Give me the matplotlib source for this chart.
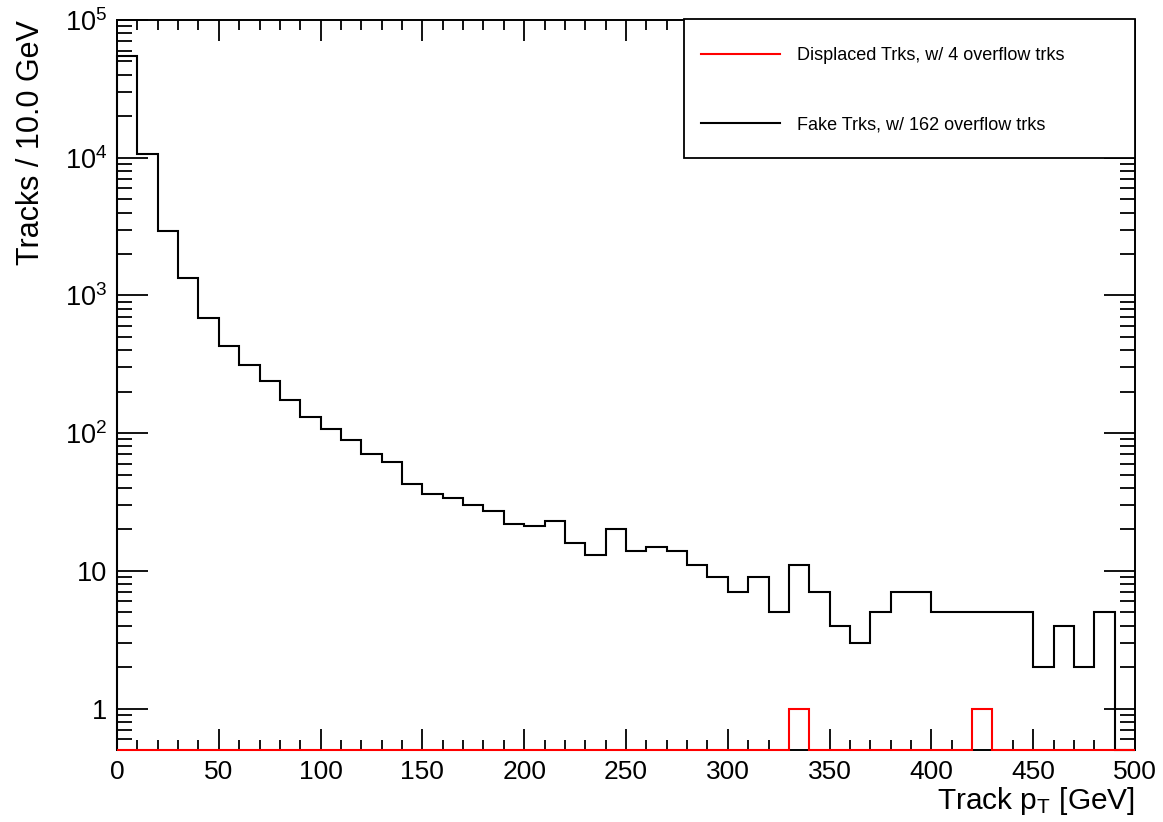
import numpy as np
import matplotlib
matplotlib.use("Agg")
import matplotlib.pyplot as plt
from matplotlib.lines import Line2D
from matplotlib.patches import Rectangle
from matplotlib.ticker import LogLocator, FixedLocator, MultipleLocator, FuncFormatter

plt.rcParams['font.family'] = ['Liberation Sans', 'DejaVu Sans']
plt.rcParams['mathtext.fontset'] = 'custom'
plt.rcParams['mathtext.rm'] = 'Liberation Sans'
plt.rcParams['mathtext.it'] = 'Liberation Sans:italic'
plt.rcParams['mathtext.bf'] = 'Liberation Sans:bold'

# ---- data ----
bin_edges = np.arange(0, 510, 10)  # 50 bins of 10 GeV
fake_counts = [55000, 10600, 2920, 1330, 690, 426, 310, 238, 175, 131,
               108, 89, 70, 62, 43, 36, 34, 30, 27, 22,
               21, 23, 16, 13, 20, 14, 15, 14, 11, 9,
               7, 9, 5, 11, 7, 4, 3, 5, 7, 7,
               5, 5, 5, 5, 5, 2, 4, 2, 5, 0]
displaced_counts = [0] * 50
displaced_counts[33] = 1
displaced_counts[42] = 1
legend_labels = ["Displaced Trks, w/ 4 overflow trks",
                 "Fake Trks, w/ 162 overflow trks"]
legend_colors = ['#ff0000', 'black']
x_ticks = [0, 50, 100, 150, 200, 250, 300, 350, 400, 450, 500]
y_ticks = [1, 10, 100, 1000, 10000, 100000]

YMIN, YMAX = 0.5, 1e5

W, H = 1163, 822
fig = plt.figure(figsize=(W / 100, H / 100), dpi=100)
ax = fig.add_axes([117 / W, 1 - 750 / H, (1135 - 117) / W, (750 - 20) / H])

fake_plot = np.where(np.array(fake_counts) > 0, fake_counts, YMIN)
disp_plot = np.where(np.array(displaced_counts) > 0, displaced_counts, YMIN)

ax.stairs(fake_plot, bin_edges, baseline=YMIN, color='black', lw=1.5, clip_on=False, zorder=3)
ax.stairs(disp_plot, bin_edges, baseline=YMIN, color='#ff0000', lw=1.5, clip_on=False, zorder=4)

ax.set_yscale('log')
ax.set_xlim(0, 500)
ax.set_ylim(YMIN, YMAX)

ax.xaxis.set_major_locator(FixedLocator(x_ticks))
ax.xaxis.set_minor_locator(MultipleLocator(10))
ax.yaxis.set_major_locator(FixedLocator(y_ticks))
ax.yaxis.set_minor_locator(LogLocator(base=10, subs=np.arange(2, 10)))

def yfmt(v, pos):
    if v < 50:
        return "%d" % round(v)
    return r"$10^{%d}$" % round(np.log10(v))

ax.yaxis.set_major_formatter(FuncFormatter(yfmt))
ax.yaxis.set_minor_formatter(FuncFormatter(lambda v, p: ""))

ax.tick_params(axis='x', which='major', direction='in', top=True, bottom=True,
               length=15, width=1.3, labelsize=19, pad=7)
ax.tick_params(axis='x', which='minor', direction='in', top=True, bottom=True,
               length=7.5, width=1.3)
ax.tick_params(axis='y', which='major', direction='in', left=True, right=True,
               length=22, width=1.3, labelsize=19.5, pad=7)
ax.tick_params(axis='y', which='minor', direction='in', left=True, right=True,
               length=11, width=1.3)
for s in ax.spines.values():
    s.set_linewidth(1.4)

fig.text(31 / W, 1 - 20 / H, "Tracks / 10.0 GeV", rotation=90, ha='center', va='top',
         fontsize=22)
fig.text(1135 / W, 1 - 809 / H, r"Track p$_{\mathrm{T}}$ [GeV]", ha='right', va='baseline',
         fontsize=21.5)

# legend box (figure pixel coordinates)
fig.patches.append(Rectangle((684 / W, 1 - 158 / H), (1135 - 684) / W, (158 - 19) / H,
                             transform=fig.transFigure, facecolor='white',
                             edgecolor='black', lw=1.3, zorder=5))
for i, (lab, col) in enumerate(zip(legend_labels, legend_colors)):
    yy = 1 - (54 + 69 * i) / H
    fig.add_artist(Line2D([701 / W, 780 / W], [yy, yy], transform=fig.transFigure,
                          color=col, lw=1.5, zorder=6))
    fig.text(797 / W, yy, lab, ha='left', va='center_baseline', fontsize=13, zorder=6)

fig.savefig("out.png", dpi=100)
